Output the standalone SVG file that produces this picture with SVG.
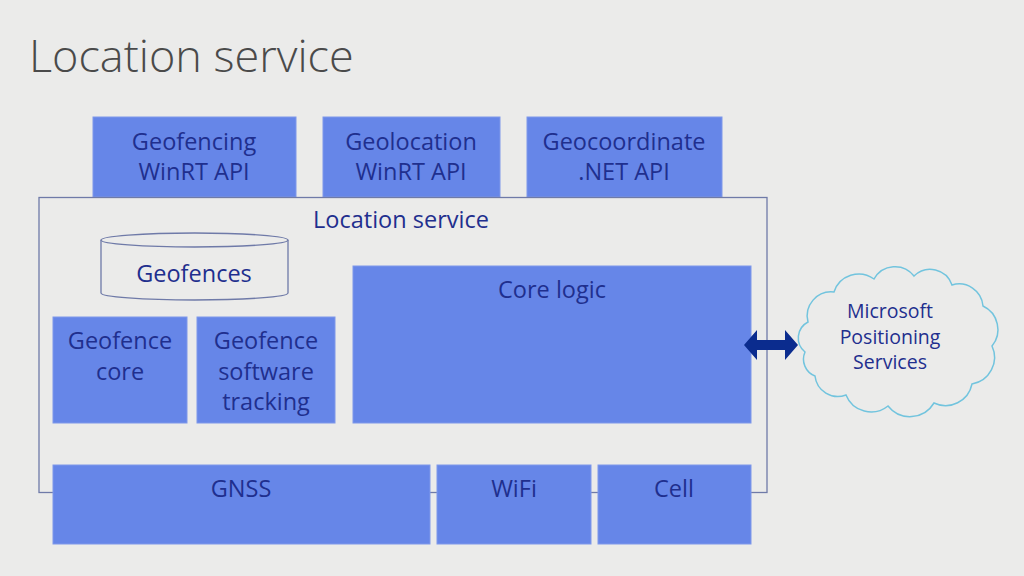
<svg xmlns="http://www.w3.org/2000/svg" width="1024" height="576" viewBox="0 0 1024 576">
<style>
.bg{fill:#ebebea}
.box{fill:#6686e8;stroke:#7f98ea;stroke-width:1}
.t{font-family:"Open Sans","Noto Sans","DejaVu Sans",sans-serif;font-size:23.5px;fill:#1f2f8e;text-anchor:middle}
.ts{font-family:"Open Sans","Noto Sans","DejaVu Sans",sans-serif;font-size:19.5px;fill:#1f2f8e;text-anchor:middle}
.title{font-family:"Open Sans","Noto Sans","DejaVu Sans",sans-serif;font-weight:300;font-size:45px;fill:#4a4a4a}
.line{fill:none;stroke:#6f7aa8;stroke-width:1.3}
</style>
<rect class="bg" x="0" y="0" width="1024" height="576"/>
<text class="title" x="29" y="72">Location service</text>

<g id="geofencing-api"><rect class="box" x="93" y="117" width="203" height="80"/><text class="t" x="194" y="150">Geofencing</text><text class="t" x="194" y="180">WinRT API</text></g>
<g id="geolocation-api"><rect class="box" x="323" y="117" width="177" height="80"/><text class="t" x="411" y="150">Geolocation</text><text class="t" x="411" y="180">WinRT API</text></g>
<g id="geocoordinate-api"><rect class="box" x="527" y="117" width="195" height="80"/><text class="t" x="624" y="150">Geocoordinate</text><text class="t" x="624" y="180">.NET API</text></g>

<g id="location-service"><rect class="line" x="39" y="197.5" width="728" height="295"/><text class="t" x="401" y="228">Location service</text></g>

<g id="geofences"><path class="line" d="M101,240 L101,293 A93.5,7 0 0 0 288,293 L288,240" style="fill:#ebebea"/><ellipse class="line" cx="194.5" cy="240" rx="93.5" ry="7" style="fill:#ebebea"/><text class="t" x="194" y="282">Geofences</text></g>

<g id="geofence-core"><rect class="box" x="53" y="317" width="134" height="106"/><text class="t" x="120" y="349">Geofence</text><text class="t" x="120" y="380">core</text></g>
<g id="geofence-tracking"><rect class="box" x="197" y="317" width="138" height="106"/><text class="t" x="266" y="349">Geofence</text><text class="t" x="266" y="380">software</text><text class="t" x="266" y="410">tracking</text></g>
<g id="core-logic"><rect class="box" x="353" y="266" width="398" height="157"/><text class="t" x="552" y="298">Core logic</text></g>

<g id="gnss"><rect class="box" x="53" y="465" width="377" height="79"/><text class="t" x="241" y="497">GNSS</text></g>
<g id="wifi"><rect class="box" x="437" y="465" width="154" height="79"/><text class="t" x="514" y="497">WiFi</text></g>
<g id="cell"><rect class="box" x="598" y="465" width="153" height="79"/><text class="t" x="674" y="497">Cell</text></g>

<g id="mps"><path d="M805,352 A18,18 0 0 1 808,322 A24,24 0 0 1 834,292 A26,26 0 0 1 874,279 A24,24 0 0 1 914,276 A23,23 0 0 1 952,285 A24,24 0 0 1 983,306 A26,26 0 0 1 992,346 A27,27 0 0 1 972,384 A27,27 0 0 1 934,403 A28,28 0 0 1 888,406 A27,27 0 0 1 846,395 A23,23 0 0 1 815,376 A18,18 0 0 1 805,352 Z" fill="#ebebea" stroke="#72c4de" stroke-width="1.5"/><text class="ts" x="890" y="318">Microsoft</text><text class="ts" x="890" y="344">Positioning</text><text class="ts" x="890" y="369">Services</text></g>

<g id="connectors"><path d="M744,345 L757,330 L757,340 L785,340 L785,330 L798,345 L785,360 L785,350 L757,350 L757,360 Z" fill="#0b2c8e"/></g>
</svg>
